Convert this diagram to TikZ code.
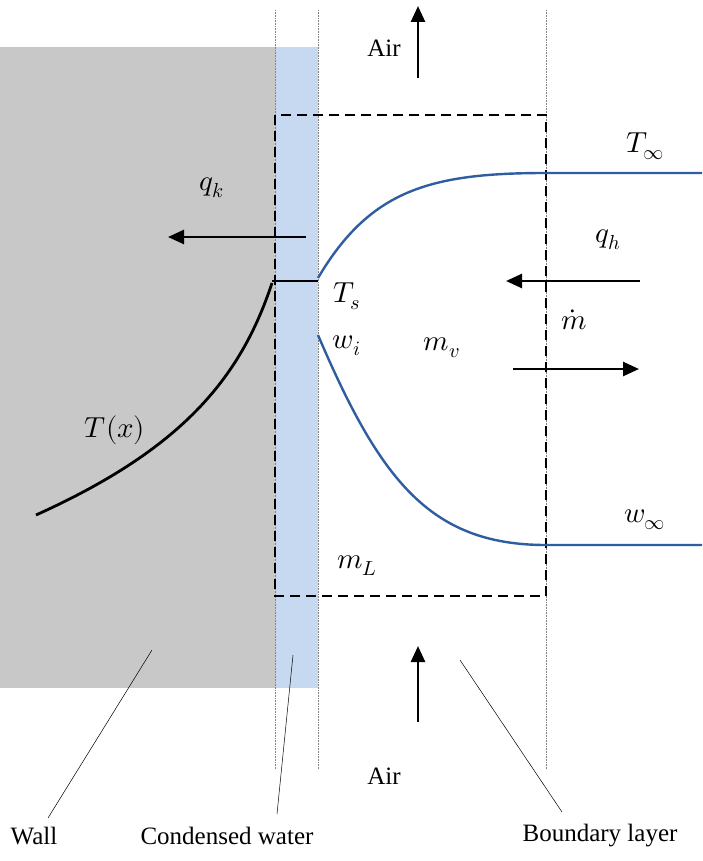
\documentclass[tikz,border=0pt]{standalone}
\usepackage{fontspec}
\usepackage{unicode-math}
\setmainfont{Liberation Serif}
\setmathfont{Latin Modern Math}
\usetikzlibrary{arrows.meta}
\definecolor{wallgray}{RGB}{200,200,200}
\definecolor{waterblue}{RGB}{198,217,240}
\definecolor{curveblue}{RGB}{46,94,160}
\tikzset{
  guide/.style={densely dotted, gray, line width=0.6pt},
  bigarrow/.style={-{Triangle[length=16pt,width=14pt]}, line width=2.6pt},
  mathlbl/.style={font=\fontsize{29}{31}\selectfont},
  txt/.style={font=\fontsize{25}{27}\selectfont},
  leader/.style={line width=0.5pt}
}
\begin{document}
\begin{tikzpicture}[x=1pt,y=-1pt]
\useasboundingbox (0,0) rectangle (702,861);
\fill[wallgray] (0,47) rectangle (275,688);
\fill[waterblue] (275,47) rectangle (318,688);
\draw[guide] (275,10) -- (275,770);
\draw[guide] (318,10) -- (318,770);
\draw[guide] (546,10) -- (546,770);
\draw[dash pattern=on 10pt off 6pt, line width=2.4pt] (275,115) rectangle (546,596);
% Air arrows
\coordinate (a1s) at (418,78); \coordinate (a1e) at (418,6);
\draw[bigarrow] (a1s) -- (a1e);
\node[txt] (air1) at (384,48) {Air};
\coordinate (a2s) at (418,722); \coordinate (a2e) at (418,646);
\draw[bigarrow] (a2s) -- (a2e);
\node[txt] (air2) at (384,776) {Air};
% qk
\coordinate (qks) at (306,237); \coordinate (qke) at (168,237);
\draw[bigarrow] (qks) -- (qke);
\node[mathlbl] (qk) at (212,188) {$q_k$};
% T inf curve
\draw[curveblue, line width=2.4pt] (318,278) .. controls (370,190) and (430,173) .. (546,173) -- (702,173);
\node[mathlbl] (tinf) at (645,146) {$T_\infty$};
% qh
\coordinate (qhs) at (640,281); \coordinate (qhe) at (506,281);
\draw[bigarrow] (qhs) -- (qhe);
\node[mathlbl] (qh) at (608,240) {$q_h$};
% mdot
\coordinate (mds) at (513,369); \coordinate (mde) at (639,369);
\draw[bigarrow] (mds) -- (mde);
\node[mathlbl] (md) at (574,320) {$\dot m$};
% Ts
\draw[line width=2.6pt] (272,281) -- (318,281);
\node[mathlbl] (ts) at (347,296) {$T_s$};
\node[mathlbl] (wi) at (347,346) {$w_i$};
\node[mathlbl] (mv) at (442,348) {$m_v$};
% w curve
\draw[curveblue, line width=2.4pt] (318,335) .. controls (380,480) and (430,545) .. (546,545) -- (702,545);
\node[mathlbl] (winf) at (645,520) {$w_\infty$};
% T(x)
\draw[line width=2.8pt] (36,515) .. controls (180,450) and (240,380) .. (272,283);
\node[mathlbl] (tx) at (115,430) {$T(x)$};
\node[mathlbl] (ml) at (357,566) {$m_L$};
% bottom labels
\node[txt] (wall) at (34,836) {Wall};
\draw[leader] (48,818) -- (152,650);
\node[txt] (cw) at (227,836) {Condensed water};
\draw[leader] (277,814) -- (293,655);
\node[txt] (bl) at (600,836) {Boundary layer};
\draw[leader] (562,812) -- (460,660);
\end{tikzpicture}
\end{document}
